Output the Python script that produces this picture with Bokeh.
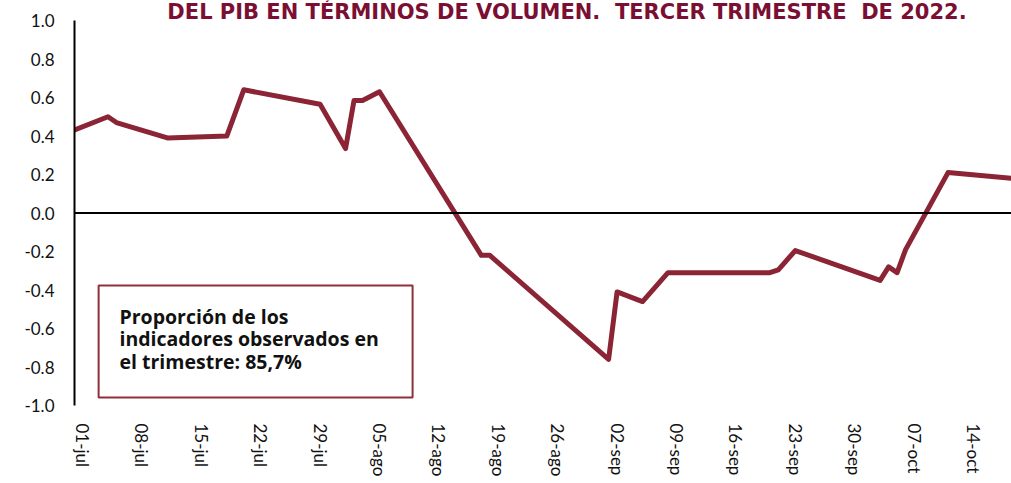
import pandas as pd
from bokeh.plotting import figure
from bokeh.models import Range1d, FixedTicker, Span, BoxAnnotation, Label, NumeralTickFormatter
from bokeh.embed import file_html
from bokeh.resources import INLINE

# ---- data ----
dates = ["2022-06-30", "2022-07-04", "2022-07-05", "2022-07-11", "2022-07-18", "2022-07-20",
         "2022-07-29", "2022-08-01", "2022-08-02", "2022-08-03", "2022-08-05", "2022-08-17",
         "2022-08-18", "2022-09-01", "2022-09-02", "2022-09-05", "2022-09-08", "2022-09-20",
         "2022-09-21", "2022-09-23", "2022-10-03", "2022-10-04", "2022-10-05", "2022-10-06",
         "2022-10-11", "2022-10-19"]
values = [0.43, 0.50, 0.47, 0.39, 0.40, 0.64,
          0.565, 0.335, 0.585, 0.585, 0.63, -0.22,
          -0.22, -0.76, -0.41, -0.46, -0.31, -0.31,
          -0.295, -0.195, -0.35, -0.28, -0.31, -0.19,
          0.21, 0.178]
tick_dates = ["2022-07-01", "2022-07-08", "2022-07-15", "2022-07-22", "2022-07-29", "2022-08-05",
              "2022-08-12", "2022-08-19", "2022-08-26", "2022-09-02", "2022-09-09", "2022-09-16",
              "2022-09-23", "2022-09-30", "2022-10-07", "2022-10-14"]
tick_labels = ["01-jul", "08-jul", "15-jul", "22-jul", "29-jul", "05-ago", "12-ago", "19-ago",
               "26-ago", "02-sep", "09-sep", "16-sep", "23-sep", "30-sep", "07-oct", "14-oct"]
y_ticks = [-1.0, -0.8, -0.6, -0.4, -0.2, 0.0, 0.2, 0.4, 0.6, 0.8, 1.0]
title_text = "DEL PIB EN TÉRMINOS DE VOLUMEN.\u00a0\u00a0TERCER TRIMESTRE\u00a0\u00a0DE 2022."
box_lines = ["Proporción de los", "indicadores observados en", "el trimestre: 85,7%"]

origin = pd.Timestamp("2022-07-01")
xd = [(pd.Timestamp(d) - origin).days for d in dates]
xt = [(pd.Timestamp(d) - origin).days for d in tick_dates]

LINE = "#8B2535"
TITLE = "#7B0F33"

p = figure(width=1011, height=483, output_backend="svg", toolbar_location=None,
           x_range=Range1d(-0.943, 109.48), y_range=Range1d(-1.0, 1.104),
           min_border_left=74, min_border_right=0, min_border_top=0, min_border_bottom=78)
p.outline_line_color = None
p.xgrid.visible = False
p.ygrid.visible = False
p.background_fill_color = "white"
p.border_fill_color = "white"

# y axis
p.yaxis.ticker = FixedTicker(ticks=y_ticks)
p.yaxis.formatter = NumeralTickFormatter(format="0.0")
p.yaxis.bounds = (-1, 1)
p.yaxis.axis_line_color = "black"
p.yaxis.axis_line_width = 2
p.yaxis.major_tick_line_color = None
p.yaxis.minor_tick_line_color = None
p.yaxis.major_tick_in = 0
p.yaxis.major_tick_out = 0
p.yaxis.major_label_standoff = 20
p.yaxis.major_label_text_font = "Lato"
p.yaxis.major_label_text_font_size = "17px"
p.yaxis.major_label_text_color = "#111111"

# x axis
p.xaxis.ticker = FixedTicker(ticks=xt)
p.xaxis.major_label_overrides = {t: l for t, l in zip(xt, tick_labels)}
p.xaxis.major_label_orientation = "vertical"
p.xaxis.axis_line_color = None
p.xaxis.major_tick_line_color = None
p.xaxis.minor_tick_line_color = None
p.xaxis.major_tick_in = 0
p.xaxis.major_tick_out = 0
p.xaxis.major_label_standoff = 18
p.xaxis.major_label_text_font = "Lato"
p.xaxis.major_label_text_font_size = "17px"
p.xaxis.major_label_text_color = "#111111"

# zero line
p.add_layout(Span(location=0, dimension="width", line_color="black", line_width=2))

# series
p.line(xd, values, line_color=LINE, line_width=5, line_join="round")

# text box
p.add_layout(BoxAnnotation(left=1.9, right=38.9, top=-0.377, bottom=-0.958,
                           fill_color="white", fill_alpha=1.0,
                           line_color="#8E2F3C", line_alpha=1.0, line_width=2))
for i, t in enumerate(box_lines):
    p.add_layout(Label(x=4.36, y=-0.540 - 0.1145 * i, text=t, text_font="Open Sans",
                       text_font_style="bold", text_font_size="19.5px", text_color="#111111",
                       text_baseline="alphabetic", text_align="left"))

# title
p.add_layout(Label(x=10.0, y=1.042, text=title_text, text_font="DejaVu Sans",
                   text_font_style="bold", text_font_size="21px", text_color=TITLE,
                   text_baseline="alphabetic", text_align="left"))

open("out.html", "w").write(file_html(p, INLINE))
